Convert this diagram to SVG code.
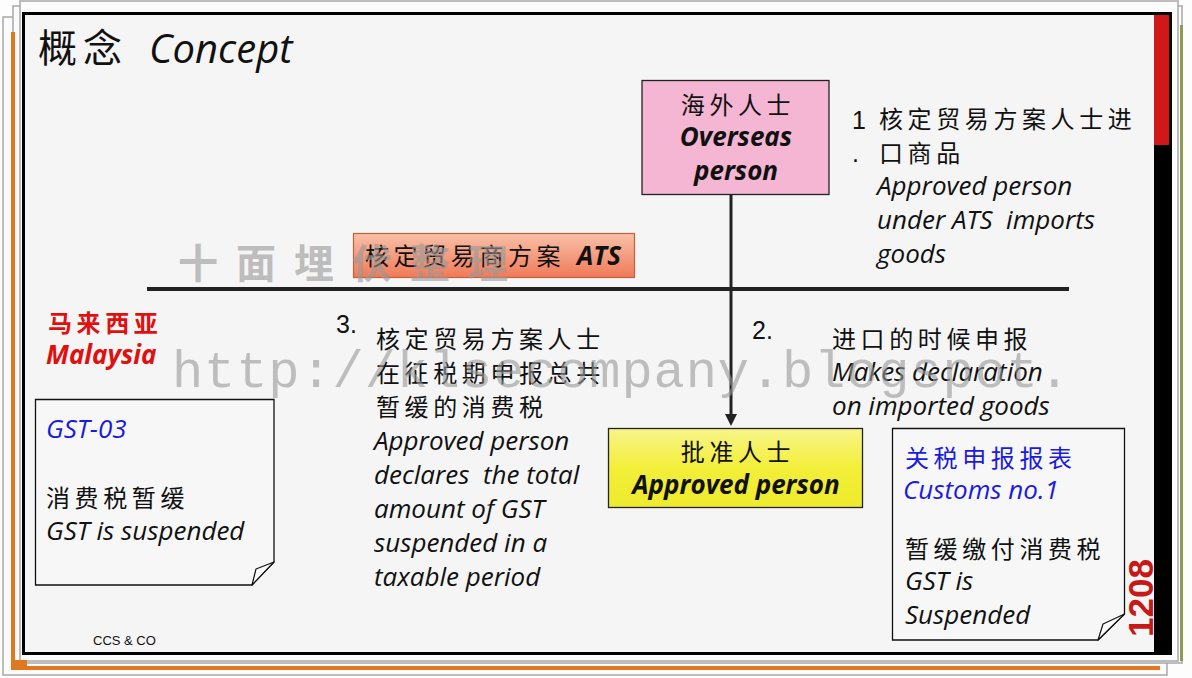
<svg xmlns="http://www.w3.org/2000/svg" width="1192" height="678" viewBox="0 0 1192 678">
<style>
.zh{font-family:"Noto Sans CJK SC","Noto Sans",sans-serif;font-size:24px;letter-spacing:4.6px;fill:#111}
.en{font-family:"Open Sans","Liberation Sans",sans-serif;font-style:italic;font-size:26px;fill:#111}
.enb{font-family:"Open Sans","Liberation Sans",sans-serif;font-style:italic;font-weight:bold;font-size:26px;fill:#111}
.num{font-family:"Liberation Sans",Arial,sans-serif;font-size:25px;fill:#111}
.blue{fill:#1a1ae0}
.red{fill:#e01010}
.sheet{fill:#fbfbfb;stroke:#a8a8a8;stroke-width:1.5}
.note{fill:#f7f7f7;stroke:#111;stroke-width:1.3}
.curl{fill:#fafafa;stroke:#111;stroke-width:1.2;stroke-linejoin:round}
.wm{fill:#999;opacity:0.6}
</style>
<defs>
<linearGradient id="gY" x1="0" y1="0" x2="0" y2="1"><stop offset="0" stop-color="#f7f48a"/><stop offset="0.5" stop-color="#f3ef3a"/><stop offset="1" stop-color="#eeea2c"/></linearGradient>
<linearGradient id="gA" x1="0" y1="0" x2="0" y2="1"><stop offset="0" stop-color="#f8c0a8"/><stop offset="1" stop-color="#f07a58"/></linearGradient>
</defs>
<rect width="1192" height="678" fill="#fdfdfd"/>
<g id="frame">
<rect class="sheet" x="3" y="17" width="1164" height="658"/>
<rect class="sheet" x="13" y="6" width="1169" height="657"/>
<rect class="sheet" x="20" y="1" width="1158" height="660"/>
<rect x="11" y="32" width="4" height="638" fill="#e07820"/>
<rect x="11" y="666" width="1149" height="4" fill="#e07820"/>
<rect x="11" y="660" width="16" height="10" fill="#e07820"/>
<rect x="1180" y="25" width="3" height="636" fill="#8c9a52"/>
<rect x="23.5" y="13.5" width="1147" height="640" fill="#f5f5f5" stroke="#000" stroke-width="3"/>
<rect x="1154" y="15" width="15" height="130" fill="#d01818"/>
<rect x="1154" y="145" width="15" height="507" fill="#000"/>
<text x="1153" y="637" transform="rotate(-90 1153 637)" font-family="Liberation Sans,Arial,sans-serif" font-weight="bold" font-size="35" fill="#c81818">1208</text>
</g>
<g id="title">
<text x="38" y="62" font-family="Noto Sans CJK SC,sans-serif" font-size="39" letter-spacing="6" fill="#111">概念</text>
<text x="149" y="63" font-family="Open Sans,Liberation Sans,sans-serif" font-style="italic" font-size="40" fill="#111">Concept</text>
</g>
<g id="connectors">
<line x1="147" y1="289" x2="1069" y2="289" stroke="#222" stroke-width="4"/>
<line x1="731" y1="195" x2="731" y2="416" stroke="#222" stroke-width="3"/>
<path d="M725,414 L737,414 L731,426 Z" fill="#222"/>
</g>
<g id="overseas">
<rect x="642" y="80.5" width="187" height="114" fill="#f4b6d2" stroke="#222" stroke-width="1.3"/>
<text class="zh" x="738" y="114" text-anchor="middle">海外人士</text>
<text class="enb" x="736" y="146" text-anchor="middle">Overseas</text>
<text class="enb" x="736" y="180" text-anchor="middle">person</text>
</g>
<g id="ats">
<rect x="353.5" y="233.5" width="281" height="44" fill="url(#gA)" stroke="#c8603a" stroke-width="1.2"/>
<text class="zh" x="365" y="265">核定贸易商方案</text>
<text class="enb" x="577" y="265" fill="#222">ATS</text>
</g>
<g id="approved">
<rect x="608.5" y="428.5" width="254" height="79" fill="url(#gY)" stroke="#222" stroke-width="1.3"/>
<text class="zh" x="738" y="461" text-anchor="middle">批准人士</text>
<text class="enb" x="736" y="494" text-anchor="middle">Approved person</text>
</g>
<g id="step1">
<text class="num" x="852" y="129">1</text>
<text class="num" x="852" y="162">.</text>
<text class="zh" x="879" y="128">核定贸易方案人士进</text>
<text class="zh" x="879" y="162">口商品</text>
<text class="en" x="877" y="195">Approved person</text>
<text class="en" x="877" y="229" xml:space="preserve">under ATS  imports</text>
<text class="en" x="877" y="263">goods</text>
</g>
<g id="step2">
<text class="num" x="752" y="339">2.</text>
<text class="zh" x="832" y="348">进口的时候申报</text>
<text class="en" x="832" y="381">Makes declaration</text>
<text class="en" x="832" y="415">on imported goods</text>
</g>
<g id="step3">
<text class="num" x="336" y="333">3.</text>
<text class="zh" x="376" y="348">核定贸易方案人士</text>
<text class="zh" x="376" y="382">在征税期申报总共</text>
<text class="zh" x="376" y="416">暂缓的消费税</text>
<text class="en" x="374" y="450">Approved person</text>
<text class="en" x="374" y="484" xml:space="preserve">declares  the total</text>
<text class="en" x="374" y="518">amount of GST</text>
<text class="en" x="374" y="552">suspended in a</text>
<text class="en" x="374" y="586">taxable period</text>
</g>
<g id="malaysia">
<text class="zh red" x="48" y="332" font-weight="bold" font-size="22" letter-spacing="6">马来西亚</text>
<text class="enb red" x="46" y="364" font-size="25">Malaysia</text>
</g>
<g id="gst03">
<path class="note" d="M35.5,399.5 H274 V562 L252,585 H35.5 Z"/>
<path class="curl" d="M252,585 L256,569 L274,562 Z"/>
<text class="en blue" x="46" y="438">GST-03</text>
<text class="zh" x="46" y="507">消费税暂缓</text>
<text class="en" x="46" y="540">GST is suspended</text>
</g>
<g id="customs">
<path class="note" d="M892.5,428.5 H1124.5 V614 L1098,640 H892.5 Z"/>
<path class="curl" d="M1098,640 L1103,624 L1124.5,614 Z"/>
<text class="zh blue" x="905" y="467">关税申报报表</text>
<text class="en blue" x="903" y="499">Customs no.1</text>
<text class="zh" x="905" y="558">暂缓缴付消费税</text>
<text class="en" x="905" y="590">GST is</text>
<text class="en" x="905" y="624">Suspended</text>
</g>
<g id="footer">
<text x="93" y="645" font-family="Liberation Sans,Arial,sans-serif" font-size="13" fill="#111">CCS &amp; CO</text>
</g>
<g id="watermarks">
<text class="wm" x="178" y="278" font-family="Noto Sans CJK SC,sans-serif" font-weight="bold" font-size="40" letter-spacing="18">十面埋伏整理</text>
<text class="wm" x="172" y="387" font-family="Liberation Mono,monospace" font-size="52" letter-spacing="0.9">http://klsecompany.blogspot.</text>
</g>
</svg>
